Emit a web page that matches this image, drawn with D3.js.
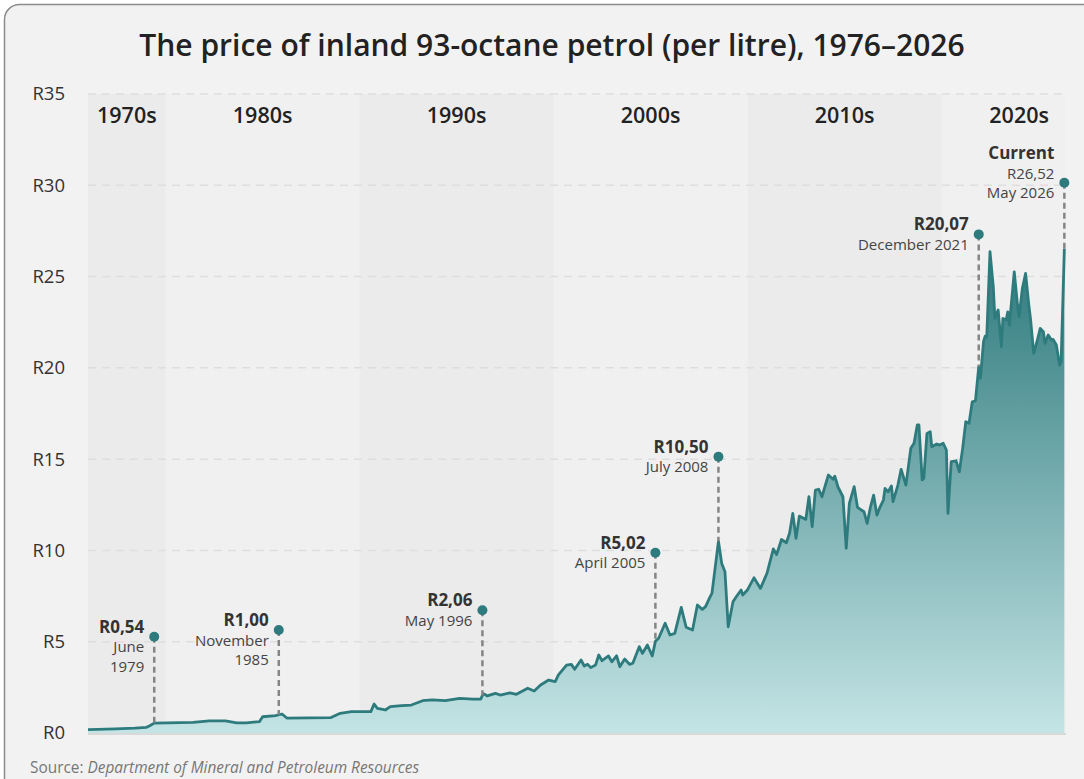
<!DOCTYPE html>
<html>
<head>
<meta charset="utf-8">
<script src="https://cdn.jsdelivr.net/npm/d3@7"></script>
<style>
  html, body { margin: 0; padding: 0; background: #fff; }
  svg { display: block; font-family: "Open Sans", "Noto Sans", sans-serif; }
</style>
</head>
<body>
<div id="chart"></div>
<script>
// price points (rand per litre), month of change
const months = [
  '1976-01','1977-06','1978-06','1979-01','1979-03','1979-06','1981-06','1982-04','1983-02','1983-09',
  '1984-03','1984-11','1985-01','1985-09','1985-11','1986-01','1986-04','1988-07','1989-01','1989-08',
  '1990-08','1990-10','1990-12','1991-05','1991-08','1992-03','1992-09','1993-04','1993-10','1994-06',
  '1995-03','1995-11','1996-04','1996-05','1996-06','1996-08','1997-01','1997-04','1997-10','1998-02',
  '1998-09','1999-01','1999-05','1999-10','2000-02','2000-04','2000-09','2000-12','2001-02','2001-06',
  '2001-08','2001-10','2001-12','2002-03','2002-05','2002-07','2002-11','2003-01','2003-04','2003-06',
  '2003-09','2003-12','2004-02','2004-06','2004-08','2004-11','2005-02','2005-04','2005-06','2005-10',
  '2006-01','2006-04','2006-08','2006-11','2007-03','2007-06','2007-09','2007-11','2008-02','2008-03',
  '2008-07','2008-09','2008-11','2009-01','2009-04','2009-06','2009-09','2009-10','2010-01','2010-05',
  '2010-09','2011-01','2011-05','2011-07','2011-10','2012-01','2012-03','2012-05','2012-07','2012-09',
  '2013-01','2013-03','2013-05','2013-07','2013-09','2013-11','2014-03','2014-06','2014-07','2014-09',
  '2014-12','2015-02','2015-04','2015-07','2015-09','2016-01','2016-03','2016-05','2016-07','2016-09',
  '2016-11','2017-01','2017-02','2017-04','2017-06','2017-07','2017-10','2017-12','2018-03','2018-06',
  '2018-08','2018-10','2018-11','2019-01','2019-02','2019-04','2019-06','2019-07','2019-10','2019-12',
  '2020-02','2020-04','2020-05','2020-07','2020-10','2020-12','2021-02','2021-04','2021-06','2021-08',
  '2021-10','2021-12','2022-01','2022-03','2022-04','2022-05','2022-07','2022-09','2022-10','2022-12',
  '2023-02','2023-03','2023-05','2023-06','2023-07','2023-10','2023-12','2024-01','2024-03','2024-05',
  '2024-07','2024-08','2024-10','2024-12','2025-02','2025-04','2025-05','2025-07','2025-09','2025-10',
  '2025-12','2026-02','2026-03','2026-05'
];
const prices = [
  0.18, 0.23, 0.27, 0.31, 0.38, 0.54, 0.58, 0.66, 0.66, 0.56,
  0.56, 0.62, 0.89, 0.95, 1.00, 1.04, 0.82, 0.84, 1.08, 1.17,
  1.17, 1.59, 1.35, 1.26, 1.44, 1.50, 1.53, 1.77, 1.81, 1.77,
  1.90, 1.86, 1.86, 2.06, 2.14, 2.03, 2.17, 2.08, 2.20, 2.12,
  2.45, 2.30, 2.63, 2.90, 2.81, 3.18, 3.72, 3.76, 3.49, 4.00,
  3.67, 3.76, 3.58, 3.72, 4.27, 3.96, 4.22, 3.90, 4.23, 3.63,
  4.05, 3.76, 3.82, 4.73, 4.36, 4.82, 4.22, 5.02, 5.19, 6.01,
  5.37, 5.46, 6.88, 5.79, 5.64, 7.01, 6.77, 6.92, 7.50, 7.65,
  10.50, 9.29, 8.83, 5.82, 7.19, 7.46, 7.83, 7.56, 7.85, 8.50,
  7.92, 8.75, 10.08, 9.77, 10.60, 10.42, 10.94, 12.03, 10.66, 11.88,
  11.70, 12.94, 11.30, 13.31, 13.35, 12.94, 14.13, 13.90, 14.07, 13.46,
  12.94, 10.12, 12.58, 13.49, 12.36, 12.12, 11.48, 12.36, 13.03, 11.94,
  12.39, 12.76, 13.40, 13.21, 13.53, 12.67, 13.58, 14.44, 13.58, 15.59,
  15.87, 16.87, 16.87, 13.86, 13.95, 16.41, 16.50, 15.68, 15.83, 15.77,
  15.87, 15.50, 12.03, 14.86, 14.91, 14.31, 15.59, 17.05, 16.96, 18.14,
  18.20, 20.07, 19.43, 21.43, 21.74, 21.70, 26.36, 24.44, 22.71, 23.17,
  21.16, 22.71, 22.62, 23.07, 22.34, 25.26, 23.44, 22.80, 24.35, 25.17,
  23.44, 22.71, 20.79, 21.43, 22.16, 21.98, 21.34, 21.80, 21.52, 21.56,
  21.25, 20.15, 20.33, 26.52
];

// decade bands
const decades = [1970, 1980, 1990, 2000, 2010, 2020];
const decadeLabels = ['1970s', '1980s', '1990s', '2000s', '2010s', '2020s'];
const decadeLabelYear = [1978, 1985, 1995, 2005, 2015, 2024];

// y axis ticks
const yTicks = [0, 5, 10, 15, 20, 25, 30, 35];

// annotated prices
const noteMonths = ['1979-06', '1985-11', '1996-05', '2005-04', '2008-07', '2021-12', '2026-05'];
const noteValues = [0.54, 1.00, 2.06, 5.02, 10.50, 20.07, 26.52];
const noteLines = [
  ['R0,54', 'June', '1979'],
  ['R1,00', 'November', '1985'],
  ['R2,06', 'May 1996'],
  ['R5,02', 'April 2005'],
  ['R10,50', 'July 2008'],
  ['R20,07', 'December 2021'],
  ['Current', 'R26,52', 'May 2026']
];

// ---- layout ----
const W = 1084, H = 779;
const margin = {t: 94, r: 18, b: 46, l: 88};
const plotRight = W - margin.r;
const plotBottom = H - margin.b;

const parseMonth = d3.timeParse('%Y-%m');
const data = months.map((m, i) => ({date: parseMonth(m), value: prices[i]}));

const x = d3.scaleTime()
  .domain([new Date(1976, 0, 1), new Date(2026, 5, 1)])
  .range([margin.l, plotRight]);
const yearX = yr => x(new Date(Math.floor(yr), Math.round((yr % 1) * 12), 1));

const y = d3.scaleLinear()
  .domain([0, 35])
  .range([plotBottom, margin.t]);

const svg = d3.select('#chart')
  .append('svg')
  .attr('width', W)
  .attr('height', H);

// card
svg.append('rect')
  .attr('x', 4.5).attr('y', 4.5)
  .attr('width', W + 40).attr('height', H + 40)
  .attr('rx', 15)
  .attr('fill', '#f2f2f2')
  .attr('stroke', '#8c8c8c')
  .attr('stroke-width', 1.5);

// title
svg.append('text')
  .attr('x', W / 2 + 10)
  .attr('y', 56)
  .attr('text-anchor', 'middle')
  .attr('font-size', 30)
  .attr('font-weight', 600)
  .attr('fill', '#222')
  .text('The price of inland 93-octane petrol (per litre), 1976–2026');

// decade bands
const [x0, x1] = x.range();
svg.append('g')
  .selectAll('rect')
  .data(decades)
  .join('rect')
  .attr('x', d => Math.max(x0, x(new Date(d, 0, 1))))
  .attr('width', d => Math.min(x1, x(new Date(d + 10, 0, 1))) - Math.max(x0, x(new Date(d, 0, 1))))
  .attr('y', y(35))
  .attr('height', y(0) - y(35))
  .attr('fill', (d, i) => i % 2 === 0 ? '#ebebeb' : '#f0f0f0');

svg.append('g')
  .selectAll('text')
  .data(decadeLabels)
  .join('text')
  .attr('x', (d, i) => yearX(decadeLabelYear[i]))
  .attr('y', 123)
  .attr('text-anchor', 'middle')
  .attr('font-size', 21.5)
  .attr('font-weight', 600)
  .attr('fill', '#222')
  .text(d => d);

// gridlines
svg.append('g')
  .selectAll('line')
  .data(yTicks.filter(d => d > 0))
  .join('line')
  .attr('x1', x0).attr('x2', x1)
  .attr('y1', d => y(d)).attr('y2', d => y(d))
  .attr('stroke', '#dedede')
  .attr('stroke-width', 1.5)
  .attr('stroke-dasharray', '8,6');

// y axis labels
svg.append('g')
  .selectAll('text')
  .data(yTicks)
  .join('text')
  .attr('x', 65)
  .attr('y', d => y(d))
  .attr('dy', '0.35em')
  .attr('text-anchor', 'end')
  .attr('font-size', 18.5)
  .attr('fill', '#333')
  .text(d => 'R' + d);

// area gradient
const defs = svg.append('defs');
const grad = defs.append('linearGradient')
  .attr('id', 'fillGrad')
  .attr('gradientUnits', 'userSpaceOnUse')
  .attr('x1', 0).attr('x2', 0)
  .attr('y1', y(26.5)).attr('y2', y(0));
grad.append('stop').attr('offset', '0%').attr('stop-color', '#2d797c');
grad.append('stop').attr('offset', '100%').attr('stop-color', '#c4e4e5');

const area = d3.area()
  .x(d => x(d.date))
  .y0(y(0))
  .y1(d => y(d.value));
const line = d3.line()
  .x(d => x(d.date))
  .y(d => y(d.value));

svg.append('path')
  .datum(data)
  .attr('d', area)
  .attr('fill', 'url(#fillGrad)');

// baseline
svg.append('line')
  .attr('x1', x0).attr('x2', x1)
  .attr('y1', y(0) + 1).attr('y2', y(0) + 1)
  .attr('stroke', '#d9d9d9')
  .attr('stroke-width', 2);

svg.append('path')
  .datum(data)
  .attr('d', line)
  .attr('fill', 'none')
  .attr('stroke', '#2e7b7e')
  .attr('stroke-width', 2.8)
  .attr('stroke-linejoin', 'round');

// annotations: dot height (in rand) and which text line sits beside the dot
const noteDotAt = [5.27, 5.64, 6.72, 9.87, 15.13, 27.31, 30.14];
const noteAnchorLine = [0, 0, 0, 0, 0, 0, 1];
const lineGap = 19.5;

const notes = svg.append('g')
  .selectAll('g')
  .data(noteMonths)
  .join('g')
  .attr('transform', (d, i) => `translate(${x(parseMonth(d))},0)`);

notes.append('line')
  .attr('x1', 0).attr('x2', 0)
  .attr('y1', (d, i) => y(noteDotAt[i]))
  .attr('y2', (d, i) => y(noteValues[i]))
  .attr('stroke', '#858585')
  .attr('stroke-width', 2.5)
  .attr('stroke-dasharray', '6,4');

notes.append('circle')
  .attr('cy', (d, i) => y(noteDotAt[i]))
  .attr('r', 5)
  .attr('fill', '#2e7b7e');

notes.each(function(d, i) {
  const g = d3.select(this);
  const top = y(noteDotAt[i]) - 4 - noteAnchorLine[i] * lineGap;
  noteLines[i].forEach((t, j) => {
    g.append('text')
      .attr('x', -10)
      .attr('y', top + j * lineGap)
      .attr('text-anchor', 'end')
      .attr('font-size', j === 0 ? 17 : 15)
      .attr('font-weight', j === 0 ? 700 : 400)
      .attr('fill', j === 0 ? '#333' : '#444')
      .text(t);
  });
});

// source
const src = svg.append('text')
  .attr('x', 30)
  .attr('y', 773)
  .attr('font-size', 15.4)
  .attr('fill', '#777');
src.append('tspan').text('Source: ');
src.append('tspan').attr('font-style', 'italic').text('Department of Mineral and Petroleum Resources');
</script>
</body>
</html>
